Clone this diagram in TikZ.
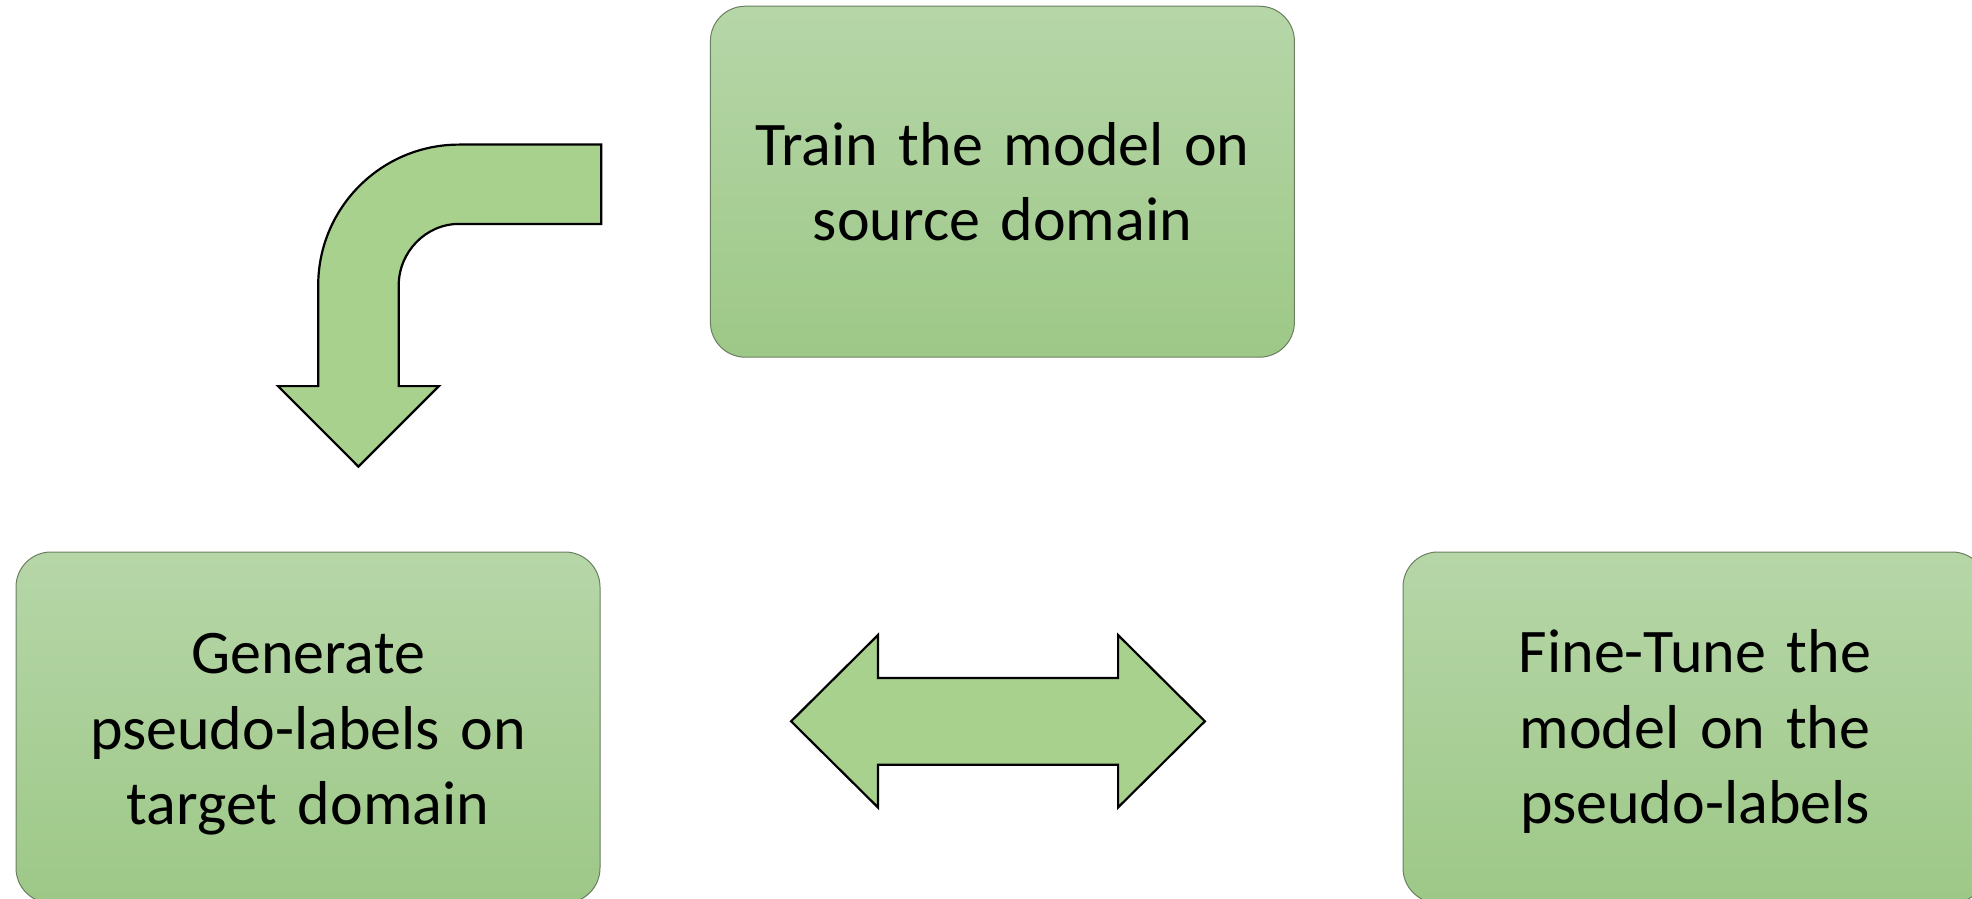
\documentclass[tikz,border=0pt]{standalone}
\usepackage{fontspec}
\setmainfont{Carlito}
\definecolor{arrowfill}{HTML}{A9D18E}
\definecolor{boxtop}{HTML}{B6D6A8}
\definecolor{boxbot}{HTML}{9DC887}
\definecolor{boxline}{HTML}{6A7F60}
\begin{document}
\begin{tikzpicture}[x=0.5pt,y=-0.5pt,
  stepbox/.style={rectangle, rounded corners=17.5pt, draw=boxline, line width=0.5pt,
    top color=boxtop, bottom color=boxbot, minimum width=292pt, minimum height=175.5pt,
    inner sep=0pt},
  steptext/.style={align=center, text width=270pt, font=\fontsize{31}{37.75}\selectfont, inner sep=0pt},
  blockarrow/.style={fill=arrowfill, draw=black, line width=1.1pt, line join=miter}]
\useasboundingbox (0,0) rectangle (1972,899);
\clip (0,0) rectangle (1972,899);
\node[stepbox] (train) at (1002.4,181.7) {};
\node[stepbox] (gen) at (308,727.5) {};
\node[stepbox] (fine) at (1695,727.5) {};
\node[steptext] (traintext) at (train.center) {Train the model on\\source domain};
\node[steptext] (gentext) at ([yshift=-3.5pt]gen.center) {Generate\\pseudo-labels on\\target domain};
\node[steptext] (finetext) at ([yshift=-2pt]fine.center) {Fine-Tune the\\model on the\\pseudo-labels};
% bent arrow
\draw[blockarrow] (601.2,144.6) -- (459.1,144.6)
  .. controls (381.3,144.6) and (318.2,207.7) .. (318.2,285.5)
  -- (318.2,386.1) -- (278,386.1) -- (358.4,466.6) -- (438.9,386.1)
  -- (398.7,386.1) -- (398.7,285.5)
  .. controls (398.7,252.1) and (425.7,223.9) .. (459.1,223.9)
  -- (601.2,223.9) -- cycle;
% double arrow
\draw[blockarrow] (791.1,721.3) -- (877.9,635.1) -- (877.9,677.9) -- (1118.1,677.9)
  -- (1118.1,635.1) -- (1204.9,721.3) -- (1118.1,807.4) -- (1118.1,764.7)
  -- (877.9,764.7) -- (877.9,807.4) -- cycle;
\end{tikzpicture}
\end{document}
